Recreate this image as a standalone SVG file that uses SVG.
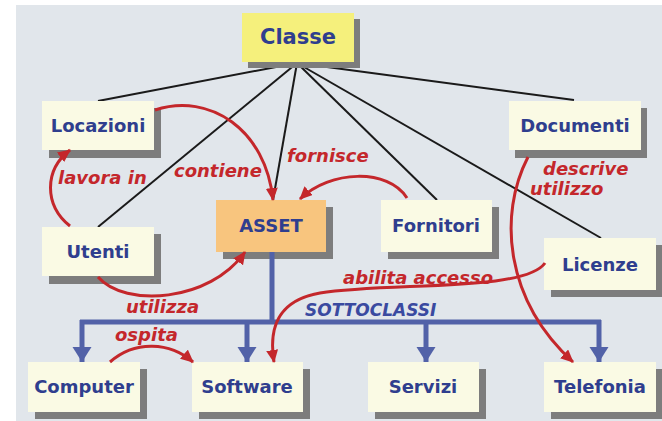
<svg xmlns="http://www.w3.org/2000/svg" width="662" height="421" viewBox="0 0 662 421">
<style>
.bg{fill:#e1e6eb}
.box{fill:#fafae4}
.sh{fill:#7d7d7d}
.nt{font-family:"DejaVu Sans",Verdana,sans-serif;font-weight:bold;font-size:18px;fill:#2f3e8e;text-anchor:middle}
.lk{stroke:#1a1a1a;stroke-width:2;fill:none}
.rel{stroke:#c4272b;stroke-width:3;fill:none;marker-end:url(#ra)}
.rl{font-family:"DejaVu Sans",Verdana,sans-serif;font-weight:bold;font-style:italic;font-size:18px;fill:#c4272b}
.sub{stroke:#5262a8;stroke-width:5;fill:none}
.subarr{stroke:#5262a8;stroke-width:5;fill:none;marker-end:url(#ba)}
</style>
<defs>
<marker id="ra" markerUnits="userSpaceOnUse" markerWidth="14" markerHeight="12" refX="12" refY="6" orient="auto">
<path d="M0,0 L13,6 L0,12 z" fill="#c4272b"/>
</marker>
<marker id="ba" markerUnits="userSpaceOnUse" markerWidth="16" markerHeight="20" refX="15" refY="9.5" orient="auto">
<path d="M0,0 L15,9.5 L0,19 z" fill="#5262a8"/>
</marker>
</defs>
<rect class="bg" x="16" y="5" width="646" height="416"/>

<g id="connectors">
<path class="lk" d="M297,63 L98,101"/>
<path class="lk" d="M297,63 L98,227"/>
<path class="lk" d="M297,63 L273,200"/>
<path class="lk" d="M297,63 L437,200"/>
<path class="lk" d="M297,63 L601,238"/>
<path class="lk" d="M297,63 L574,100"/>
</g>

<g id="node-classe"><rect class="sh" x="248" y="19" width="112" height="49"/><rect x="242" y="13" width="112" height="49" fill="#f5f07c"/><text class="nt" x="298" y="44" style="font-size:21px">Classe</text></g>
<g id="node-locazioni"><rect class="sh" x="49" y="108" width="112" height="50"/><rect class="box" x="42" y="101" width="112" height="49"/><text class="nt" x="98" y="132">Locazioni</text></g>
<g id="node-documenti"><rect class="sh" x="515" y="108" width="132" height="50"/><rect class="box" x="509" y="101" width="132" height="49"/><text class="nt" x="575" y="132">Documenti</text></g>
<g id="node-utenti"><rect class="sh" x="49" y="234" width="112" height="50"/><rect class="box" x="42" y="227" width="112" height="49"/><text class="nt" x="98" y="258">Utenti</text></g>
<g id="node-asset"><rect class="sh" x="223" y="207" width="110" height="52"/><rect x="216" y="200" width="110" height="52" fill="#f8c57e"/><text class="nt" x="271" y="232">ASSET</text></g>
<g id="node-fornitori"><rect class="sh" x="388" y="207" width="111" height="52"/><rect class="box" x="381" y="200" width="111" height="52"/><text class="nt" x="436" y="232">Fornitori</text></g>
<g id="node-licenze"><rect class="sh" x="551" y="245" width="112" height="52"/><rect class="box" x="544" y="238" width="112" height="52"/><text class="nt" x="600" y="271">Licenze</text></g>
<g id="node-computer"><rect class="sh" x="35" y="369" width="112" height="50"/><rect class="box" x="28" y="362" width="112" height="50"/><text class="nt" x="84" y="393">Computer</text></g>
<g id="node-software"><rect class="sh" x="199" y="369" width="111" height="50"/><rect class="box" x="192" y="362" width="111" height="50"/><text class="nt" x="247" y="393">Software</text></g>
<g id="node-servizi"><rect class="sh" x="375" y="369" width="111" height="50"/><rect class="box" x="368" y="362" width="111" height="50"/><text class="nt" x="423" y="393">Servizi</text></g>
<g id="node-telefonia"><rect class="sh" x="551" y="369" width="112" height="50"/><rect class="box" x="544" y="362" width="112" height="50"/><text class="nt" x="600" y="393">Telefonia</text></g>

<g id="relations">
<path class="sub" d="M272,252 L272,322 M80,322 L601,322"/>
<path class="subarr" d="M82,320 L82,362"/>
<path class="subarr" d="M247,320 L247,362"/>
<path class="subarr" d="M426,320 L426,362"/>
<path class="subarr" d="M599,320 L599,362"/>
<text x="305" y="316" font-family="DejaVu Sans, Verdana, sans-serif" font-weight="bold" font-style="italic" font-size="17" fill="#3a4aa0">SOTTOCLASSI</text>

<path class="rel" d="M155,110 C210,92 266,130 273,200"/>
<path class="rel" d="M70,226 C44,205 44,170 70,150"/>
<path class="rel" d="M407,198 C388,168 330,170 300,199"/>
<path class="rel" d="M98,277 C125,308 210,302 245,252"/>
<path class="rel" d="M110,362 C135,340 170,342 193,362"/>
<path class="rel" d="M545,263 C525,292 390,282 320,293 C280,300 268,325 274,362"/>
<path class="rel" d="M528,157 C498,215 505,300 573,362"/>

<text class="rl" x="58" y="184">lavora in</text>
<text class="rl" x="174" y="177">contiene</text>
<text class="rl" x="287" y="162">fornisce</text>
<text class="rl" x="543" y="175">descrive</text>
<text class="rl" x="530" y="195">utilizzo</text>
<text class="rl" x="343" y="284">abilita accesso</text>
<text class="rl" x="126" y="313">utilizza</text>
<text class="rl" x="115" y="341">ospita</text>
</g>
</svg>
